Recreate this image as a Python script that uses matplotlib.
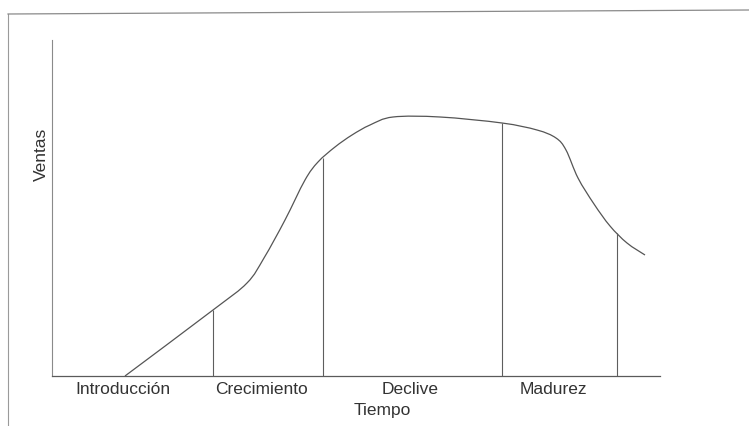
import numpy as np
import matplotlib
matplotlib.use("Agg")
import matplotlib.pyplot as plt
from matplotlib.lines import Line2D
from matplotlib.path import Path
from matplotlib.patches import PathPatch

plt.rcParams["font.family"] = ["Liberation Sans", "DejaVu Sans"]

# ciclo de vida del producto (unidades arbitrarias)
tiempo = [7.3, 16.1, 19.5, 21.2, 23.3, 25.3, 26.6, 28.3, 30.0, 31.8, 34.1,
          38.8, 45.0, 48.5, 50.4, 51.4, 52.6, 54.2, 55.8, 57.5, 59.3]
ventas = [0.0, 6.6, 9.3, 11.8, 15.6, 19.6, 21.4, 22.9, 24.1, 25.1, 25.9,
          25.9, 25.3, 24.6, 23.8, 22.6, 19.8, 17.2, 15.0, 13.3, 12.1]

limites = [16.1, 27.1, 45.0, 56.5]
etapas = ["Introducción", "Crecimiento", "Declive", "Madurez"]
pos_etapas = [7.1, 21.0, 35.8, 50.1]

fig = plt.figure(figsize=(7.49, 4.26), dpi=100)
ax = fig.add_axes([52 / 749, 50 / 426, 608 / 749, 336 / 426])

line_col = "#555555"

# curva suave (Bezier tipo Catmull-Rom) que pasa por los puntos leidos
pts = np.column_stack([tiempo, ventas])
verts = [pts[0]]
codes = [Path.MOVETO]
n = len(pts)
for i in range(n - 1):
    p0 = pts[i - 1] if i > 0 else pts[i]
    p1, p2 = pts[i], pts[i + 1]
    p3 = pts[i + 2] if i + 2 < n else pts[i + 1]
    verts += [p1 + (p2 - p0) / 6, p2 - (p3 - p1) / 6, p2]
    codes += [Path.CURVE4] * 3
ax.add_patch(PathPatch(Path(verts, codes), fill=False, edgecolor=line_col, lw=0.9))

for x in limites:
    ax.vlines(x, 0, np.interp(x, tiempo, ventas), color="#5e5e5e", lw=0.8)

ax.set_xlim(0, 60.8)
ax.set_ylim(0, 33.6)
for s in ["top", "right"]:
    ax.spines[s].set_visible(False)
ax.spines["left"].set_color("#8a8a8a")
ax.spines["bottom"].set_color("#5a5a5a")
ax.spines["left"].set_linewidth(0.8)
ax.spines["bottom"].set_linewidth(0.9)

ax.set_xticks(pos_etapas)
ax.set_xticklabels(etapas, fontsize=12.5, color="#333333")
ax.tick_params(axis="x", length=0, pad=4)
ax.set_yticks([])

ax.text(0.544, -0.08, "Tiempo", transform=ax.transAxes, ha="center", va="top",
        fontsize=12.5, color="#333333")
ax.text(-0.017, 0.66, "Ventas", transform=ax.transAxes, ha="center", va="center",
        rotation=90, fontsize=12.5, color="#333333")

# borde del escaneo
fig.add_artist(Line2D([8 / 749, 8 / 749], [0, 1 - 14 / 426], transform=fig.transFigure,
                      color="#9a9a9a", lw=0.8))
fig.add_artist(Line2D([8 / 749, 1], [1 - 14 / 426, 1 - 10 / 426], transform=fig.transFigure,
                      color="#8a8a8a", lw=0.9))

fig.savefig("out.png", dpi=100)
